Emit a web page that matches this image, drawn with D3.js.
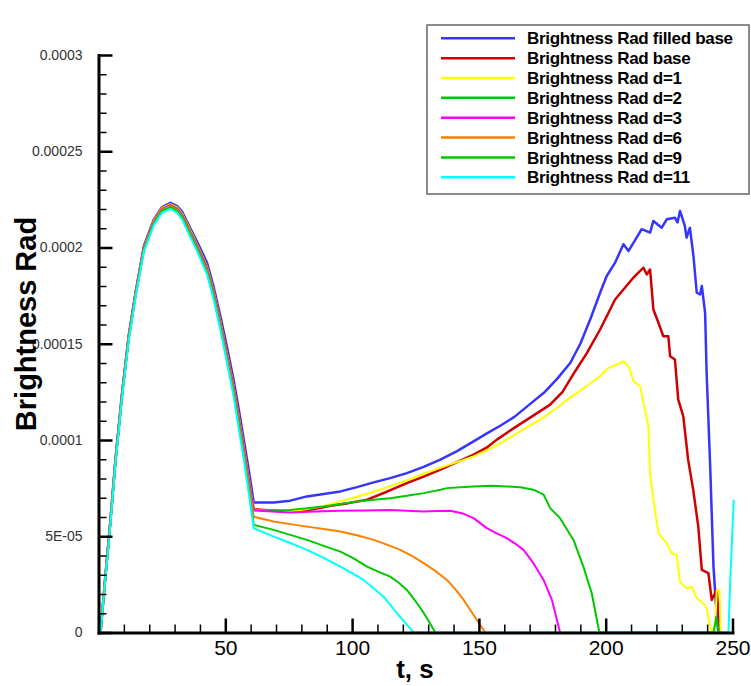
<!DOCTYPE html>
<html>
<head>
<meta charset="utf-8">
<script src="https://cdn.jsdelivr.net/npm/d3@7"></script>
<style>
  html, body { margin: 0; padding: 0; background: #fff; }
  svg { display: block; font-family: "Liberation Sans", Arial, sans-serif; }
</style>
</head>
<body>
<div id="chart"></div>
<script>
const width = 751;
const height = 686;
const UNIT = 1e-5; // values below are in units of 1e-5

// shared sample times for the first (common) hump
const earlyT = [0.8, 2.5, 4.3, 6.7, 9.3, 11.9, 14.6, 17.9, 21.8, 25.0, 28.4, 31.0, 33.0, 36.0, 38.9, 42.8, 45.5, 48.1, 50.7, 53.3, 55.3, 57.3, 59.3, 61.2];

const blueEarly    = [0, 2.6, 5.2, 9.0, 12.45, 15.4, 17.65, 20.08, 21.45, 22.1, 22.32, 22.15, 21.85, 21.05, 20.3, 19.2, 17.9, 16.4, 14.8, 13.1, 11.6, 10.0, 8.4, 6.75];
const redEarly     = [0, 2.6, 5.2, 8.95, 12.4, 15.35, 17.6, 20.0, 21.4, 22.05, 22.25, 22.08, 21.75, 20.95, 20.15, 19.0, 17.7, 16.2, 14.55, 12.85, 11.3, 9.7, 8.05, 6.4];
const yellowEarly  = [0, 2.6, 5.2, 8.95, 12.4, 15.35, 17.6, 20.0, 21.4, 22.05, 22.25, 22.08, 21.75, 20.95, 20.15, 19.0, 17.7, 16.15, 14.5, 12.8, 11.25, 9.65, 8.0, 6.38];
const green2Early  = [0, 2.55, 5.15, 8.9, 12.35, 15.3, 17.55, 19.95, 21.35, 22.0, 22.2, 22.03, 21.7, 20.9, 20.1, 18.95, 17.65, 16.1, 14.45, 12.75, 11.2, 9.6, 7.95, 6.37];
const magentaEarly = [0, 2.55, 5.15, 8.9, 12.35, 15.3, 17.55, 19.95, 21.35, 22.0, 22.2, 22.0, 21.68, 20.85, 20.05, 18.9, 17.6, 16.05, 14.4, 12.7, 11.15, 9.55, 7.9, 6.34];
const orangeEarly  = [0, 2.55, 5.1, 8.85, 12.3, 15.25, 17.5, 19.9, 21.3, 21.95, 22.15, 21.95, 21.6, 20.78, 19.95, 18.8, 17.48, 15.92, 14.25, 12.55, 10.95, 9.35, 7.65, 6.01];
const green9Early  = [0, 2.5, 5.05, 8.8, 12.25, 15.2, 17.45, 19.85, 21.25, 21.9, 22.1, 21.9, 21.55, 20.7, 19.9, 18.7, 17.38, 15.8, 14.1, 12.38, 10.78, 9.15, 7.4, 5.59];
const cyanEarly    = [0, 2.5, 5.0, 8.8, 12.2, 15.15, 17.4, 19.8, 21.15, 21.8, 22.0, 21.8, 21.45, 20.6, 19.8, 18.6, 17.25, 15.7, 14.0, 12.25, 10.6, 9.0, 7.2, 5.42];

// [t, value] after the knee at t ~ 61
const blueTail = [[69.1,6.75],[75.6,6.85],[82.2,7.07],[88.8,7.2],[95.4,7.33],[101.9,7.55],[108.5,7.8],[115,8.02],[121.6,8.28],[128.2,8.6],[134.8,8.98],[141.4,9.42],[147.9,9.93],[153,10.33],[158.4,10.74],[164,11.2],[170,11.85],[176.1,12.51],[181,13.2],[186,14.0],[190,15.0],[194,16.3],[197.8,17.65],[200.4,18.52],[203.7,19.21],[207,20.17],[209,19.82],[211,20.25],[214.2,20.95],[217.5,20.77],[218.8,21.38],[222.1,21.03],[224.1,21.47],[227.3,21.55],[228.3,21.3],[229.3,21.9],[231.2,21.12],[231.9,20.51],[233.2,21.03],[234.6,19.56],[235.9,17.65],[237.2,17.56],[237.9,18.0],[239.2,16.61],[239.8,13.49],[241.2,8.63],[242.5,3.42],[243.8,0.82],[244.4,0]];
const redTail = [[75.6,6.27],[83.5,6.37],[91.4,6.58],[98.5,6.72],[105.9,6.9],[113.5,7.3],[121.6,7.76],[128.2,8.1],[134.8,8.46],[141.4,8.85],[147.9,9.24],[153,9.6],[157.1,10.02],[163,10.55],[170.2,11.16],[178.1,11.84],[183,12.5],[187.9,13.56],[192.5,14.5],[197.8,15.74],[201.1,16.61],[203.7,17.3],[207,17.82],[210.3,18.34],[212.2,18.6],[214.9,18.95],[216.2,18.6],[217.5,18.86],[218.8,16.78],[220.8,16.09],[222.7,15.39],[224.7,15.39],[225.4,14.35],[227.3,14.18],[228.6,12.1],[230.6,11.23],[232.5,8.98],[234.5,7.42],[236.5,5.51],[237.9,3.25],[240.5,3.08],[241.8,1.69],[243.1,2.04],[243.8,2.21],[245.1,0]];
const yellowTail = [[75.6,6.27],[87.5,6.53],[95.4,6.81],[101.9,7.05],[108.5,7.31],[115,7.6],[121.6,7.9],[128.2,8.25],[134.8,8.56],[141.4,8.85],[147.9,9.15],[154.5,9.55],[161,10.02],[167.5,10.55],[174.2,11.06],[180,11.6],[186,12.2],[192,12.75],[197.8,13.31],[201.1,13.75],[204.4,13.92],[207,14.09],[209,13.83],[211,13.05],[213.6,12.79],[214.9,11.93],[216.8,10.71],[217.5,8.28],[218.8,6.9],[220.8,5.16],[224.1,4.64],[226,4.12],[228,4.03],[229.3,2.64],[231.9,2.3],[233.9,2.38],[235.9,1.78],[238.5,1.52],[239.8,1.26],[241.2,0.3],[241.7,0],[243.2,0.4],[243.8,2.21],[244.9,2.21],[245.3,0]];
const green2Tail = [[69.1,6.35],[75.6,6.37],[82.2,6.45],[88.8,6.55],[95.4,6.68],[101.9,6.81],[108.5,6.9],[115,6.98],[121.6,7.1],[128.2,7.24],[134.8,7.42],[137.4,7.5],[142.6,7.55],[147.9,7.59],[154.5,7.62],[161,7.59],[166.3,7.55],[171.5,7.42],[175.5,7.16],[178.1,6.46],[182,5.94],[187.3,4.81],[191.2,3.42],[194.5,2.04],[197.5,0],[242.6,0],[243.6,0.8],[244.6,0]];
const magentaTail = [[75.6,6.23],[85.5,6.28],[95.4,6.32],[105.2,6.34],[115,6.37],[121.6,6.33],[128.2,6.29],[133.5,6.31],[138.7,6.32],[143.3,6.2],[147.9,5.94],[153.1,5.42],[157,5.15],[161,4.9],[164.3,4.62],[167.6,4.29],[171.5,3.6],[175.5,2.73],[178.8,1.69],[182,0]];
const orangeTail = [[69.1,5.77],[75.6,5.63],[82.2,5.5],[88.8,5.38],[95.4,5.25],[101.9,5.05],[108.5,4.81],[114,4.55],[119,4.29],[123.6,3.98],[128.2,3.6],[132.8,3.2],[137.4,2.73],[141,2.2],[144,1.69],[146.6,1.17],[149.2,0.65],[152.5,0]];
const green9Tail = [[69.1,5.33],[75.6,5.07],[82.2,4.81],[88.8,4.5],[95.4,4.2],[100.6,3.85],[105.9,3.42],[110.5,3.15],[115,2.9],[118.3,2.6],[121.6,2.21],[124.6,1.7],[127.5,1.17],[130.2,0.6],[132.8,0]];
const cyanTail = [[69.1,4.98],[75.6,4.65],[82.2,4.29],[88.8,3.88],[95.4,3.42],[100,3.08],[104.5,2.73],[108.5,2.3],[112.4,1.86],[115,1.45],[117.7,1.0],[121,0.5],[124.2,0],[248.4,0],[249.2,3.0],[250.5,6.9]];

const seriesNames = ["Brightness Rad filled base", "Brightness Rad base", "Brightness Rad d=1", "Brightness Rad d=2", "Brightness Rad d=3", "Brightness Rad d=6", "Brightness Rad d=9", "Brightness Rad d=11"];
const seriesColors = ["#3535ff", "#d00000", "#ffff00", "#00c800", "#ff00ff", "#ff8000", "#00c800", "#00ffff"];
const seriesWidths = [2.5, 2.5, 2, 2, 2, 2, 2, 2];
const earlyValues = [blueEarly, redEarly, yellowEarly, green2Early, magentaEarly, orangeEarly, green9Early, cyanEarly];
const tails = [blueTail, redTail, yellowTail, green2Tail, magentaTail, orangeTail, green9Tail, cyanTail];

const xMajor = [50, 100, 150, 200, 250];
const yMajor = [0, 0.00005, 0.0001, 0.00015, 0.0002, 0.00025, 0.0003];
const yLabels = ["0", "5E-05", "0.0001", "0.00015", "0.0002", "0.00025", "0.0003"];

const svg = d3.select("#chart").append("svg")
    .attr("width", width)
    .attr("height", height);

const x = d3.scaleLinear().domain([0, 250]).range([98.5, 732.5]);
const y = d3.scaleLinear().domain([0, 0.0003]).range([632.5, 55]);

const line = d3.line()
    .x(d => x(d[0]))
    .y(d => y(d[1] * UNIT));

seriesNames.forEach((name, i) => {
    const pts = earlyT.map((t, j) => [t, earlyValues[i][j]]).concat(tails[i]);
    svg.append("path")
        .datum(pts)
        .attr("fill", "none")
        .attr("stroke", seriesColors[i])
        .attr("stroke-width", seriesWidths[i])
        .attr("stroke-linejoin", "round")
        .attr("d", line);
});

// minor ticks
const xMinor = d3.range(10, 250, 10).filter(v => v % 50 !== 0);
const yMinor = d3.range(1, 30).map(v => v * 1e-5).filter((v, i) => (i + 1) % 5 !== 0);

svg.append("g")
    .attr("transform", `translate(0, ${y(0)})`)
    .call(d3.axisBottom(x).tickValues(xMinor).tickSize(-8).tickFormat(""))
    .call(g => g.select(".domain").remove())
    .selectAll("line").attr("stroke-width", 1.5);

svg.append("g")
    .attr("transform", `translate(${x(0)}, 0)`)
    .call(d3.axisLeft(y).tickValues(yMinor).tickSize(-8).tickFormat(""))
    .call(g => g.select(".domain").remove())
    .selectAll("line").attr("stroke-width", 1.5);

const xAxis = svg.append("g")
    .attr("transform", `translate(0, ${y(0)})`)
    .call(d3.axisBottom(x).tickValues(xMajor).tickSize(-14).tickSizeOuter(0).tickPadding(8));
xAxis.select(".domain").attr("stroke-width", 3).attr("stroke-linecap", "square");
xAxis.selectAll(".tick line").attr("stroke-width", 2.5);
xAxis.selectAll("text").attr("font-size", 21).attr("fill", "#000");

const yAxis = svg.append("g")
    .attr("transform", `translate(${x(0)}, 0)`)
    .call(d3.axisLeft(y).tickValues(yMajor).tickSize(-14).tickSizeOuter(0).tickPadding(16)
        .tickFormat((d, i) => yLabels[i]));
yAxis.select(".domain").attr("stroke-width", 3).attr("stroke-linecap", "square");
yAxis.selectAll(".tick line").attr("stroke-width", 2.5);
yAxis.selectAll("text").attr("font-size", 14).attr("fill", "#333");

// axis titles
svg.append("text")
    .attr("x", 415)
    .attr("y", 678)
    .attr("text-anchor", "middle")
    .attr("font-size", 26)
    .attr("font-weight", "bold")
    .text("t, s");

svg.append("text")
    .attr("transform", "translate(36, 324) rotate(-90)")
    .attr("text-anchor", "middle")
    .attr("font-size", 29)
    .attr("font-weight", "bold")
    .text("Brightness Rad");

// legend
const legend = svg.append("g");
legend.append("rect")
    .attr("x", 427)
    .attr("y", 25)
    .attr("width", 322)
    .attr("height", 169)
    .attr("fill", "#fff")
    .attr("stroke", "#666")
    .attr("stroke-width", 1.5);

seriesNames.forEach((name, i) => {
    const ly = 38.3 + i * 19.85;
    legend.append("line")
        .attr("x1", 441).attr("x2", 515)
        .attr("y1", ly).attr("y2", ly)
        .attr("stroke", seriesColors[i])
        .attr("stroke-width", 2.5);
    legend.append("text")
        .attr("x", 527)
        .attr("y", ly)
        .attr("dy", "0.36em")
        .attr("font-size", 17)
        .attr("font-weight", "bold")
        .attr("letter-spacing", -0.3)
        .text(name);
});
</script>
</body>
</html>
